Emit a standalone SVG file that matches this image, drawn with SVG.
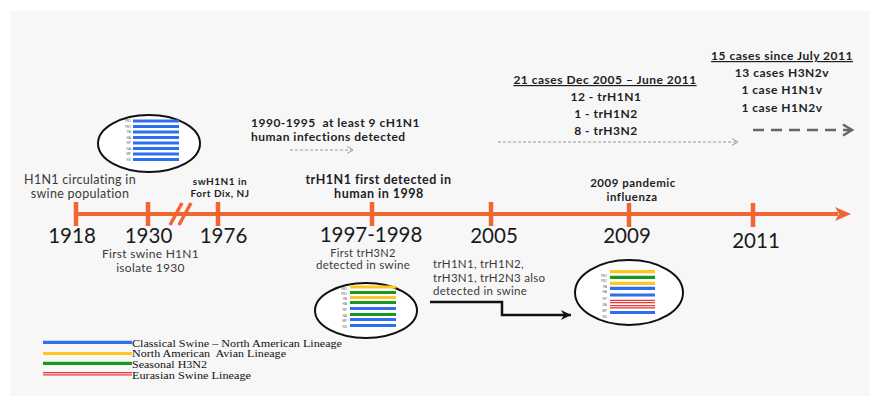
<svg xmlns="http://www.w3.org/2000/svg" width="870" height="396" viewBox="0 0 870 396">
<defs>
<style>
.reg{font-family:Lato,"Open Sans","Liberation Sans",sans-serif;fill:#3a3a3a;letter-spacing:0.3px}
.bold{font-family:Lato,"Open Sans","Liberation Sans",sans-serif;font-weight:bold;fill:#1e1e1e;letter-spacing:0.5px}
.year{font-family:Lato,"Open Sans","Liberation Sans",sans-serif;font-size:20.5px;fill:#1a1a1a;text-anchor:middle}
.c{text-anchor:middle}
.leg{font-family:"Liberation Serif","Times New Roman",serif;font-size:10.5px;fill:#111}
.tick{stroke:#f26432;stroke-width:4.5}
.seg{font-family:"Liberation Sans",sans-serif;font-size:3.2px;fill:#666;text-anchor:end}
.bl{stroke:#2e6ef0;stroke-width:3.2}
.ye{stroke:#ffc820;stroke-width:3.2}
.gr{stroke:#18981e;stroke-width:3.2}
.rd{stroke:#e83838;stroke-width:3.4}
.rdw{stroke:#fff0f0;stroke-width:1}
.ell{fill:#fff;stroke:#111;stroke-width:2}
.thin{fill:none;stroke:#999;stroke-width:1;stroke-dasharray:3 2}
</style>
<marker id="openHead" markerUnits="userSpaceOnUse" markerWidth="10" markerHeight="10" refX="7" refY="5" orient="auto">
<polyline points="1,1.5 7,5 1,8.5" fill="none" stroke="#999" stroke-width="1"/>
</marker>
<marker id="darkHead" markerUnits="userSpaceOnUse" markerWidth="14" markerHeight="14" refX="11" refY="7" orient="auto">
<polyline points="2,1.5 11,7 2,12.5" fill="none" stroke="#666" stroke-width="2.5"/>
</marker>
<marker id="blackHead" markerUnits="userSpaceOnUse" markerWidth="12" markerHeight="12" refX="10" refY="6" orient="auto">
<polygon points="0,1 10,6 0,11 3,6" fill="#111"/>
</marker>
</defs>
<rect x="0" y="0" width="870" height="396" fill="#fff"/>
<rect x="10" y="11" width="860" height="385" fill="#f7f7f7"/>

<g id="timeline">
<line x1="74" y1="214" x2="838" y2="214" stroke="#f26432" stroke-width="4"/>
<polygon points="851,214 835,207 839,214 835,221" fill="#f26432"/>
<line class="tick" x1="76" y1="202" x2="76" y2="226"/>
<line class="tick" x1="148" y1="202" x2="148" y2="226"/>
<line class="tick" x1="218" y1="202" x2="218" y2="226"/>
<line class="tick" x1="372" y1="202" x2="372" y2="226"/>
<line class="tick" x1="491" y1="202" x2="491" y2="226"/>
<line class="tick" x1="629" y1="203" x2="629" y2="227"/>
<line class="tick" x1="753" y1="203" x2="753" y2="227"/>
<line x1="170" y1="225" x2="182" y2="203" stroke="#f26432" stroke-width="3.5"/>
<line x1="179" y1="225" x2="191" y2="203" stroke="#f26432" stroke-width="3.5"/>
</g>

<g id="years">
<text class="year" x="72" y="243">1918</text>
<text class="year" x="148.5" y="243">1930</text>
<text class="year" x="223.5" y="243">1976</text>
<text class="year" x="371" y="242">1997-1998</text>
<text class="year" x="494" y="243">2005</text>
<text class="year" x="627" y="243">2009</text>
<text class="year" x="756" y="248">2011</text>
</g>

<g id="label-1918">
<text class="reg c" x="80" y="184" font-size="12.5">H1N1 circulating in</text>
<text class="reg c" x="80" y="198" font-size="12.5">swine population</text>
</g>
<g id="label-1930">
<text class="reg c" x="150.5" y="258" font-size="12">First swine H1N1</text>
<text class="reg c" x="150.5" y="272" font-size="12">isolate 1930</text>
</g>
<g id="label-1976">
<text class="bold c" x="220" y="185" font-size="10">swH1N1 in</text>
<text class="bold c" x="220" y="197" font-size="10">Fort Dix, NJ</text>
</g>
<g id="label-1990">
<text class="bold" x="251" y="127" font-size="12" letter-spacing="0.75" xml:space="preserve">1990-1995  at least 9 cH1N1</text>
<text class="bold" x="251" y="140.5" font-size="12" letter-spacing="0.75">human infections detected</text>
</g>
<g id="label-1998">
<text class="bold c" x="378.5" y="184" font-size="12.5">trH1N1 first detected in</text>
<text class="bold c" x="379" y="198" font-size="12.5">human in 1998</text>
</g>
<g id="label-trH3N2">
<text class="reg c" x="363" y="256.5" font-size="11">First trH3N2</text>
<text class="reg c" x="363" y="269" font-size="11.5">detected in swine</text>
</g>
<g id="label-2009">
<text class="bold c" x="633" y="186.5" font-size="11.5" letter-spacing="0.7">2009 pandemic</text>
<text class="bold c" x="632" y="200.5" font-size="11.5" letter-spacing="0.7">influenza</text>
</g>
<g id="label-swine-also">
<text class="reg" x="433" y="268" font-size="11.5">trH1N1, trH1N2,</text>
<text class="reg" x="433" y="282" font-size="11.5">trH3N1, trH2N3 also</text>
<text class="reg" x="433" y="295" font-size="11.5">detected in swine</text>
</g>
<g id="cases-2005-2011">
<text class="bold c" x="605" y="84" font-size="12" text-decoration="underline">21 cases Dec 2005 – June 2011</text>
<text class="bold c" x="606" y="101" font-size="12">12 - trH1N1</text>
<text class="bold c" x="606" y="118" font-size="12">1 - trH1N2</text>
<text class="bold c" x="606" y="135" font-size="12">8 - trH3N2</text>
</g>
<g id="cases-since-2011">
<text class="bold c" x="782" y="60" font-size="12" text-decoration="underline">15 cases since July 2011</text>
<text class="bold c" x="782" y="77" font-size="12">13 cases H3N2v</text>
<text class="bold c" x="782" y="94" font-size="12">1 case H1N1v</text>
<text class="bold c" x="782" y="112" font-size="12">1 case H1N2v</text>
</g>

<g id="genome-1918">
<ellipse class="ell" cx="149" cy="143.5" rx="51" ry="28.5"/>
<line class="bl" x1="133" y1="121" x2="179" y2="121"/>
<line class="bl" x1="133" y1="126.5" x2="179" y2="126.5"/>
<line class="bl" x1="133" y1="132" x2="179" y2="132"/>
<line class="bl" x1="133" y1="137.5" x2="179" y2="137.5"/>
<line class="bl" x1="133" y1="143" x2="179" y2="143"/>
<line class="bl" x1="133" y1="148.5" x2="179" y2="148.5"/>
<line class="bl" x1="133" y1="154" x2="179" y2="154"/>
<line class="bl" x1="133" y1="159.5" x2="179" y2="159.5"/>
<text class="seg" x="131" y="122">PB2</text>
<text class="seg" x="131" y="127.5">PB1</text>
<text class="seg" x="131" y="133">PA</text>
<text class="seg" x="131" y="138.5">HA</text>
<text class="seg" x="131" y="144">NP</text>
<text class="seg" x="131" y="149.5">NA</text>
<text class="seg" x="131" y="155">MP</text>
<text class="seg" x="131" y="160.5">NS</text>
</g>

<g id="genome-1998">
<ellipse class="ell" cx="366" cy="310.5" rx="51" ry="27.5"/>
<line class="ye" x1="350" y1="287" x2="396" y2="287"/>
<line class="gr" x1="350" y1="292.5" x2="396" y2="292.5"/>
<line class="ye" x1="350" y1="297.5" x2="396" y2="297.5"/>
<line class="gr" x1="350" y1="302.5" x2="396" y2="302.5"/>
<line class="bl" x1="350" y1="308.5" x2="396" y2="308.5"/>
<line class="gr" x1="350" y1="314.5" x2="396" y2="314.5"/>
<line class="bl" x1="350" y1="319.5" x2="396" y2="319.5"/>
<line class="bl" x1="350" y1="325.5" x2="396" y2="325.5"/>
<text class="seg" x="347" y="289.5">PB2</text>
<text class="seg" x="347" y="294.5">PB1</text>
<text class="seg" x="347" y="299.5">PA</text>
<text class="seg" x="347" y="304.5">HA</text>
<text class="seg" x="347" y="310.5">NP</text>
<text class="seg" x="347" y="316.5">NA</text>
<text class="seg" x="347" y="321.5">MP</text>
<text class="seg" x="347" y="327.5">NS</text>
</g>

<g id="genome-2009">
<ellipse class="ell" cx="629" cy="292.5" rx="54" ry="32.5"/>
<line class="ye" x1="610" y1="271.7" x2="655" y2="271.7"/>
<line class="gr" x1="610" y1="277.3" x2="655" y2="277.3"/>
<line class="ye" x1="610" y1="283.3" x2="655" y2="283.3"/>
<line class="bl" x1="610" y1="288.3" x2="655" y2="288.3"/>
<line class="bl" x1="610" y1="295" x2="655" y2="295"/>
<line class="rd" x1="610" y1="301.5" x2="655" y2="301.5"/>
<line class="rdw" x1="610" y1="301.5" x2="655" y2="301.5"/>
<line class="rd" x1="610" y1="306.7" x2="655" y2="306.7"/>
<line class="rdw" x1="610" y1="306.7" x2="655" y2="306.7"/>
<line class="bl" x1="610" y1="312.5" x2="655" y2="312.5"/>
<text class="seg" x="607" y="277">PB2</text>
<text class="seg" x="607" y="282">PB1</text>
<text class="seg" x="607" y="288">PA</text>
<text class="seg" x="607" y="293">HA</text>
<text class="seg" x="607" y="300">NP</text>
<text class="seg" x="607" y="306">NA</text>
<text class="seg" x="607" y="312">MP</text>
<text class="seg" x="607" y="318">NS</text>
</g>

<g id="legend">
<line class="bl" x1="43" y1="342.3" x2="132" y2="342.3" stroke-width="3.5"/>
<line class="ye" x1="43" y1="353.5" x2="132" y2="353.5" stroke-width="3.5"/>
<line class="gr" x1="43" y1="363.3" x2="132" y2="363.3" stroke-width="3.5"/>
<line class="rd" x1="43" y1="373.8" x2="132" y2="373.8" stroke-width="3.6"/>
<line class="rdw" x1="43" y1="373.8" x2="132" y2="373.8" stroke-width="1.2"/>
<text class="leg" x="132" y="346.5" textLength="210" lengthAdjust="spacingAndGlyphs">Classical Swine – North American Lineage</text>
<text class="leg" x="132" y="357.3" textLength="154" lengthAdjust="spacingAndGlyphs" xml:space="preserve">North American  Avian Lineage</text>
<text class="leg" x="132" y="367.8" textLength="75" lengthAdjust="spacingAndGlyphs">Seasonal H3N2</text>
<text class="leg" x="132" y="379.3" textLength="119" lengthAdjust="spacingAndGlyphs">Eurasian Swine Lineage</text>
</g>

<g id="connectors">
<line class="thin" x1="290" y1="150" x2="353" y2="150" marker-end="url(#openHead)"/>
<line class="thin" x1="498" y1="142" x2="738" y2="142" marker-end="url(#openHead)"/>
<line x1="753" y1="130" x2="852" y2="130" stroke="#666" stroke-width="2.5" stroke-dasharray="11 7" marker-end="url(#darkHead)"/>
<path d="M430,302 H502 V315 H571" fill="none" stroke="#111" stroke-width="2.5" marker-end="url(#blackHead)"/>
</g>
</svg>
